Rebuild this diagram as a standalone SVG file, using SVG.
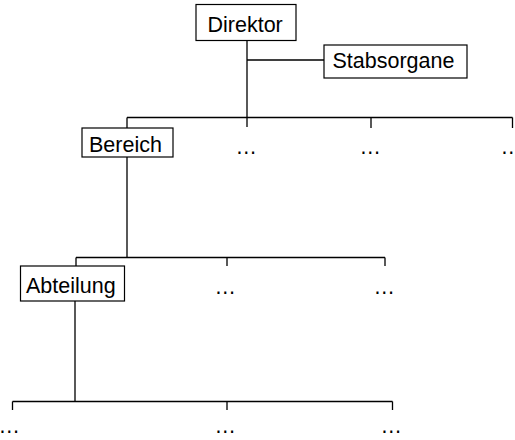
<svg xmlns="http://www.w3.org/2000/svg" width="515" height="440" viewBox="0 0 515 440">
<style>
.box{fill:#fff;stroke:#000;stroke-width:1.2}
.lbl{font-family:"Liberation Sans",Arial,sans-serif;font-size:21.5px;fill:#000}
.ln{stroke:#000;stroke-width:1.3;fill:none}
</style>
<rect width="515" height="440" fill="#fff"/>
<g id="connectors">
<path class="ln" d="M247 41V127M247 60H324"/>
<path class="ln" d="M127 117.5H512.5M127 117.5V128M371 117.5V128M512.5 117.5V128"/>
<path class="ln" d="M127 157V257.5M76 257.5H385M76 257.5V266M227 257.5V266M385 257.5V266"/>
<path class="ln" d="M75 301V401.5M12.5 401.5H392.5M12.5 401.5V410M227 401.5V410M392.5 401.5V410"/>
</g>
<g id="direktor"><rect class="box" x="196" y="4.5" width="100" height="36"/><text class="lbl" x="207.5" y="32">Direktor</text></g>
<g id="stabsorgane"><rect class="box" x="324" y="45" width="143" height="33"/><text class="lbl" x="332.5" y="68">Stabsorgane</text></g>
<g id="bereich"><rect class="box" x="82" y="128" width="91" height="29"/><text class="lbl" x="89" y="151.5">Bereich</text></g>
<g id="bereich2"><text class="lbl" x="235.5" y="154">…</text></g>
<g id="bereich3"><text class="lbl" x="359.5" y="154">…</text></g>
<g id="bereich4"><text class="lbl" x="500.5" y="154">…</text></g>
<g id="abteilung"><rect class="box" x="20.5" y="266" width="104" height="35"/><text class="lbl" x="26" y="293">Abteilung</text></g>
<g id="abteilung2"><text class="lbl" x="214.5" y="293.5">…</text></g>
<g id="abteilung3"><text class="lbl" x="373.5" y="293.5">…</text></g>
<g id="unit1"><text class="lbl" x="-1.5" y="433">…</text></g>
<g id="unit2"><text class="lbl" x="214.5" y="433">…</text></g>
<g id="unit3"><text class="lbl" x="380.5" y="433">…</text></g>
</svg>
